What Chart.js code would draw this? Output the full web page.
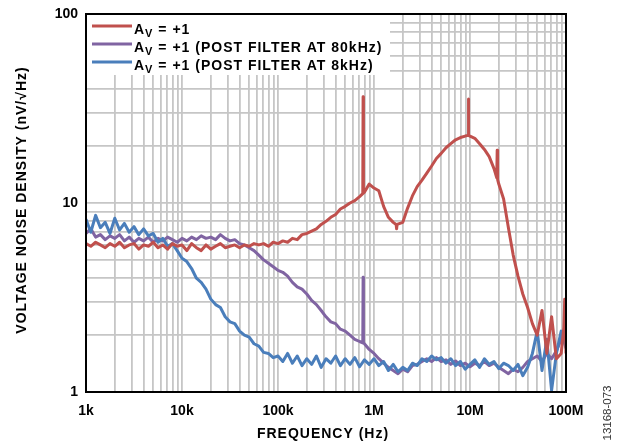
<!DOCTYPE html>
<html>
<head>
<meta charset="utf-8">
<script src="https://cdn.jsdelivr.net/npm/chart.js@4/dist/chart.umd.min.js"></script>
<style>
  body { margin: 0; background: #fff; }
  canvas { display: block; }
</style>
</head>
<body>
<canvas id="myChart" width="626" height="444"></canvas>
<script>
// frequency grid (Hz), 20 points per decade
var freqs = [
  1.000e3, 1.122e3, 1.259e3, 1.413e3, 1.585e3, 1.778e3, 1.995e3, 2.239e3, 2.512e3, 2.818e3,
  3.162e3, 3.548e3, 3.981e3, 4.467e3, 5.012e3, 5.623e3, 6.310e3, 7.079e3, 7.943e3, 8.913e3,
  1.000e4, 1.122e4, 1.259e4, 1.413e4, 1.585e4, 1.778e4, 1.995e4, 2.239e4, 2.512e4, 2.818e4,
  3.162e4, 3.548e4, 3.981e4, 4.467e4, 5.012e4, 5.623e4, 6.310e4, 7.079e4, 7.943e4, 8.913e4,
  1.000e5, 1.122e5, 1.259e5, 1.413e5, 1.585e5, 1.778e5, 1.995e5, 2.239e5, 2.512e5, 2.818e5,
  3.162e5, 3.548e5, 3.981e5, 4.467e5, 5.012e5, 5.623e5, 6.310e5, 7.079e5, 7.943e5, 8.913e5,
  1.000e6, 1.122e6, 1.259e6, 1.413e6, 1.585e6, 1.778e6, 1.995e6, 2.239e6, 2.512e6, 2.818e6,
  3.162e6, 3.548e6, 3.981e6, 4.467e6, 5.012e6, 5.623e6, 6.310e6, 7.079e6, 7.943e6, 8.913e6,
  1.000e7, 1.122e7, 1.259e7, 1.413e7, 1.585e7, 1.778e7, 1.995e7, 2.239e7, 2.512e7, 2.818e7,
  3.162e7, 3.548e7, 3.981e7, 4.467e7, 5.012e7, 5.623e7, 6.310e7, 7.079e7, 7.943e7, 8.913e7,
  1.000e8
];

// AV = +1
var av1 = [
  6.1, 5.9, 6.2, 6.0, 5.8, 6.1, 5.9, 6.2, 5.8, 6.0,
  6.1, 5.7, 6.0, 5.9, 6.2, 5.8, 6.0, 5.7, 6.1, 5.9,
  6.0, 5.6, 6.1, 5.8, 5.6, 6.0, 5.7, 5.9, 6.1, 5.8,
  5.9, 6.0, 5.8, 6.0, 5.9, 6.1, 6.0, 6.1, 5.9, 6.2,
  6.1, 6.3, 6.2, 6.5, 6.4, 6.8, 6.9, 7.1, 7.3, 7.7,
  8.0, 8.4, 8.7, 9.3, 9.6, 10.0, 10.3, 10.8, 11.4, 12.6,
  12.0, 11.6, 9.6, 8.4, 7.9, 7.7, 7.9, 9.4, 10.9, 12.2,
  13.2, 14.4, 15.7, 17.2, 18.3, 19.6, 20.6, 21.6, 22.2, 22.6,
  22.6, 22.0, 20.6, 19.2, 17.6, 15.2, 12.6, 10.5, 7.4, 5.3,
  4.1, 3.3, 2.8, 2.3, 2.0, 2.7, 1.6, 2.5, 1.5, 1.6,
  1.6
];
var av1Spikes = [
  [7.64e5, 11.2], [7.70e5, 36.5], [7.76e5, 11.3],
  [1.70e6, 7.7], [1.72e6, 7.3], [1.74e6, 7.7],
  [9.55e6, 22.8], [9.62e6, 35.5], [9.70e6, 22.8],
  [1.90e7, 13.6], [1.92e7, 19.0], [1.94e7, 13.3],
  [9.50e7, 2.2], [9.70e7, 3.1]
];

// AV = +1 (post filter at 80kHz)
var av1Post80k = [
  6.9, 7.3, 6.6, 6.8, 6.4, 6.7, 6.5, 6.8, 6.3, 6.6,
  6.2, 6.5, 6.3, 6.6, 6.2, 6.5, 6.3, 6.6, 6.4, 6.2,
  6.5, 6.3, 6.6, 6.4, 6.7, 6.5, 6.6, 6.4, 6.8, 6.5,
  6.3, 6.4, 6.1, 6.0, 5.8, 5.6, 5.3, 5.0, 4.8, 4.6,
  4.4, 4.3, 4.1, 3.8, 3.6, 3.5, 3.3, 3.05, 2.9, 2.7,
  2.5, 2.35, 2.3, 2.15, 2.1, 2.0, 1.9, 1.85, 1.8, 1.68,
  1.6, 1.5, 1.42, 1.35, 1.3, 1.25, 1.32, 1.28, 1.38, 1.4,
  1.45, 1.5, 1.45, 1.52, 1.45, 1.48, 1.4, 1.46, 1.38, 1.42,
  1.36, 1.42, 1.38, 1.45, 1.38, 1.42, 1.35, 1.3, 1.25, 1.32,
  1.28, 1.35, 1.45, 1.5, 1.55, 1.45, 1.6, 1.5, 1.65, 1.9,
  2.0
];
var av1Post80kSpikes = [
  [7.64e5, 1.82], [7.70e5, 4.05], [7.76e5, 1.82]
];

// AV = +1 (post filter at 8kHz)
var av1Post8k = [
  8.2, 7.0, 8.6, 7.4, 7.9, 6.9, 8.3, 7.2, 7.8, 7.0,
  7.5, 6.8, 7.3, 6.7, 6.9, 6.2, 6.5, 5.9, 6.1, 5.6,
  5.1, 4.9, 4.5, 4.0, 3.8, 3.5, 3.1, 2.9, 2.8, 2.5,
  2.35, 2.3, 2.1, 2.0, 1.95, 1.8, 1.75, 1.62, 1.6, 1.52,
  1.55, 1.45, 1.6, 1.42, 1.55, 1.38, 1.5, 1.4, 1.55, 1.35,
  1.5, 1.42, 1.55, 1.38, 1.5, 1.4, 1.52, 1.36, 1.48, 1.4,
  1.5, 1.38, 1.45, 1.3, 1.4, 1.28, 1.35, 1.3, 1.42, 1.38,
  1.5, 1.45, 1.55, 1.48, 1.52, 1.42, 1.5, 1.38, 1.45, 1.32,
  1.4, 1.48, 1.35, 1.5, 1.4, 1.45, 1.33, 1.42, 1.38, 1.3,
  1.4, 1.22, 1.35, 1.6, 2.1, 1.3, 1.9, 1.02, 1.6, 2.1,
  1.7
];
var av1Post8kSpikes = [];

var seriesNames = ['+1', '+1 (POST FILTER AT 80kHz)', '+1 (POST FILTER AT 8kHz)'];
var seriesColors = ['#c0504d', '#8064a2', '#4a7ebb'];

var xDecades = [1e3, 1e4, 1e5, 1e6, 1e7, 1e8];
var xTickLabels = ['1k', '10k', '100k', '1M', '10M', '100M'];
var yDecades = [1, 10, 100];
var yTickLabels = ['1', '10', '100'];

function puntos(vals, spikes) {
  var pts = [];
  for (var i = 0; i < freqs.length; i++) pts.push({x: freqs[i], y: vals[i]});
  for (var j = 0; j < spikes.length; j++) pts.push({x: spikes[j][0], y: spikes[j][1]});
  pts.sort(function(a, b){ return a.x - b.x; });
  return pts;
}

function minorTicks(decades) {
  var t = [];
  for (var i = 0; i < decades.length; i++) {
    for (var m = 1; m <= 9; m++) {
      if (i == decades.length - 1 && m > 1) break;
      t.push({value: decades[i] * m});
    }
  }
  return t;
}

var FONT = 'Liberation Sans, Arial, sans-serif';

var decor = {
  id: 'decor',
  afterDraw: function(chart) {
    var ctx = chart.ctx, a = chart.chartArea;
    ctx.save();
    // legend box
    ctx.fillStyle = '#fff';
    ctx.fillRect(a.left + 1, a.top + 1, 303, 60);
    var rows = [26, 44, 62];
    for (var i = 0; i < 3; i++) {
      var y = rows[i];
      ctx.strokeStyle = seriesColors[i];
      ctx.lineWidth = 3;
      ctx.beginPath();
      ctx.moveTo(92, y);
      ctx.lineTo(132, y);
      ctx.stroke();
      var base = y + 7.5;
      ctx.fillStyle = '#000';
      ctx.textAlign = 'left';
      ctx.textBaseline = 'alphabetic';
      ctx.letterSpacing = '1px';
      ctx.font = 'bold 14px ' + FONT;
      ctx.fillText('A', 134, base);
      var x = 134 + ctx.measureText('A').width;
      ctx.font = 'bold 11px ' + FONT;
      ctx.fillText('V', x, base + 3.5);
      x += ctx.measureText('V').width;
      ctx.font = 'bold 14px ' + FONT;
      ctx.fillText(' = ' + seriesNames[i], x, base);
    }
    // plot frame
    ctx.strokeStyle = '#000';
    ctx.lineWidth = 2;
    ctx.strokeRect(a.left, a.top, a.right - a.left, a.bottom - a.top);
    // axis titles
    ctx.fillStyle = '#000';
    ctx.font = 'bold 14px ' + FONT;
    ctx.letterSpacing = '1px';
    ctx.textAlign = 'center';
    ctx.textBaseline = 'middle';
    ctx.fillText('FREQUENCY (Hz)', 323, 434.5);
    ctx.save();
    ctx.translate(22, 200);
    ctx.rotate(-Math.PI / 2);
    ctx.fillText('VOLTAGE NOISE DENSITY (nV/\u221AHz)', 0, 0);
    ctx.restore();
    // figure number
    ctx.save();
    ctx.letterSpacing = '0px';
    ctx.font = '11.5px ' + FONT;
    ctx.fillStyle = '#333';
    ctx.translate(608, 413);
    ctx.rotate(-Math.PI / 2);
    ctx.fillText('13168-073', 0, 0);
    ctx.restore();
    ctx.restore();
  }
};

var ctx = document.getElementById('myChart').getContext('2d');
var myChart = new Chart(ctx, {
  type: 'line',
  data: {
    datasets: [
      {label: 'AV = +1', data: puntos(av1, av1Spikes), borderColor: seriesColors[0], order: 0},
      {label: 'AV = +1 (POST FILTER AT 80kHz)', data: puntos(av1Post80k, av1Post80kSpikes), borderColor: seriesColors[1], order: 2},
      {label: 'AV = +1 (POST FILTER AT 8kHz)', data: puntos(av1Post8k, av1Post8kSpikes), borderColor: seriesColors[2], order: 1}
    ]
  },
  options: {
    responsive: false,
    animation: false,
    devicePixelRatio: 1,
    layout: {padding: {left: 0, right: 60, top: 14, bottom: 0}},
    elements: {
      line: {borderWidth: 3, tension: 0, borderJoinStyle: 'round'},
      point: {radius: 0}
    },
    plugins: {legend: {display: false}, tooltip: {enabled: false}},
    font: {family: FONT},
    scales: {
      x: {
        type: 'logarithmic',
        min: 1e3,
        max: 1e8,
        afterBuildTicks: function(s){ s.ticks = minorTicks(xDecades); },
        afterFit: function(s){ s.height = 52; s.paddingLeft = 0; s.paddingRight = 0; },
        grid: {color: '#c6c6c6', lineWidth: 1.8, drawTicks: false},
        border: {display: false},
        ticks: {
          autoSkip: false, maxRotation: 0, padding: 11, color: '#000',
          font: {family: FONT, size: 14, weight: 'bold'},
          callback: function(v){ var i = xDecades.indexOf(v); return i >= 0 ? xTickLabels[i] : ''; }
        }
      },
      y: {
        type: 'logarithmic',
        min: 1,
        max: 100,
        afterBuildTicks: function(s){ s.ticks = minorTicks(yDecades); },
        afterFit: function(s){ s.width = 86; s.paddingTop = 0; s.paddingBottom = 0; },
        grid: {color: '#c6c6c6', lineWidth: 1.8, drawTicks: false},
        border: {display: false},
        ticks: {
          autoSkip: false, padding: 8, color: '#000',
          font: {family: FONT, size: 14, weight: 'bold'},
          callback: function(v){ var i = yDecades.indexOf(v); return i >= 0 ? yTickLabels[i] : ''; }
        }
      }
    }
  },
  plugins: [decor]
});
</script>
</body>
</html>
